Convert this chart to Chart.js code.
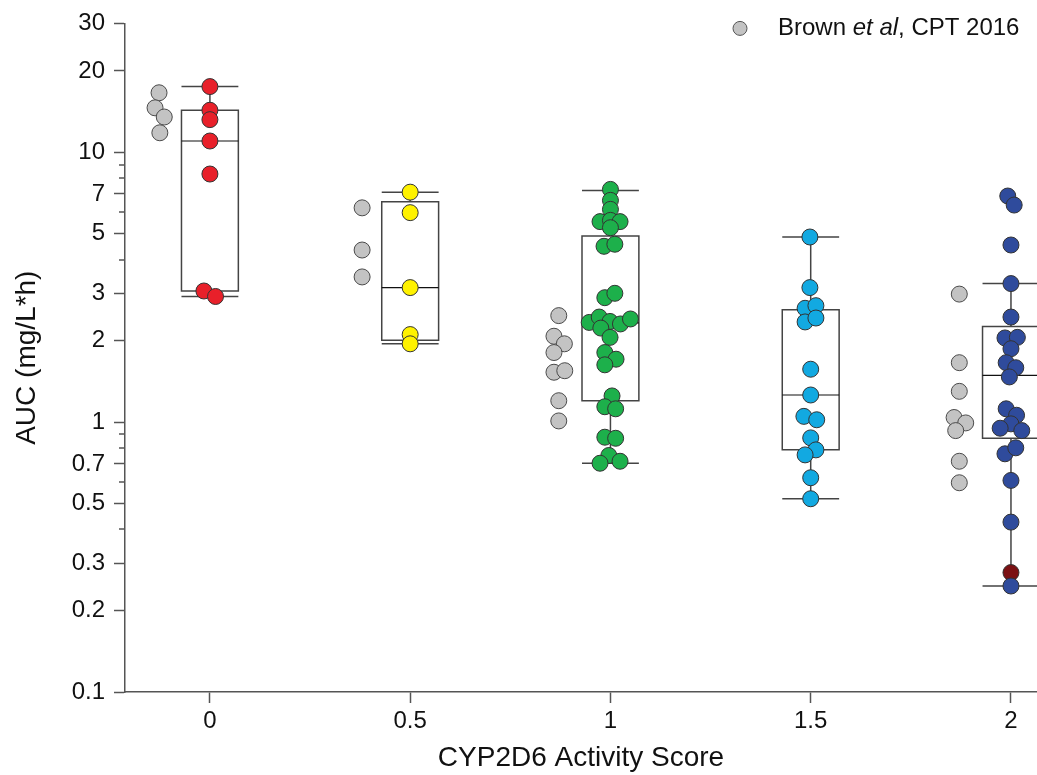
<!DOCTYPE html>
<html>
<head>
<meta charset="utf-8">
<script src="https://cdn.jsdelivr.net/npm/chart.js@4.4.0/dist/chart.umd.min.js"></script>
<style>
  html, body { margin: 0; padding: 0; background: #fff; }
</style>
</head>
<body>
<canvas id="myChart" width="1037" height="775"></canvas>
<script>
// axis ticks
const scoreTicks = [0, 0.5, 1, 1.5, 2];
const aucTicks = [0.1, 0.2, 0.3, 0.5, 0.7, 1, 2, 3, 5, 7, 10, 20, 30];
const aucMinorTicks = [0.4, 0.6, 0.8, 0.9, 4, 6, 8, 9];

// activity score 0
const as0Pos = [0, 0, 0, 0, 0, -0.015, 0.014];
const as0Auc = [17.5, 14.3, 13.2, 11.0, 8.3, 3.06, 2.92];
// activity score 0.5
const as05Pos = [0.5, 0.5, 0.5, 0.5, 0.5];
const as05Auc = [7.11, 5.97, 3.15, 2.11, 1.95];
// activity score 1
const as1Pos = [1, 1, 1, 0.974, 1, 1.024, 1, 0.984, 1.011, 0.986, 1.011, 0.947, 0.972, 0.999, 1.025,
  1.05, 0.976, 0.999, 0.986, 1.014, 0.986, 1.004, 0.986, 1.013, 0.986, 1.013, 0.996, 0.974, 1.024];
const as1Auc = [7.28, 6.63, 6.14, 5.53, 5.59, 5.53, 5.25, 4.48, 4.56, 2.89, 3.0, 2.34, 2.45, 2.36, 2.31,
  2.41, 2.23, 2.06, 1.81, 1.71, 1.63, 1.25, 1.14, 1.12, 0.879, 0.871, 0.752, 0.704, 0.716];
// activity score 1.5
const as15Pos = [1.498, 1.498, 1.486, 1.513, 1.486, 1.513, 1.5, 1.5, 1.483, 1.515, 1.5, 1.513, 1.486, 1.5, 1.5];
const as15Auc = [4.85, 3.15, 2.64, 2.7, 2.35, 2.43, 1.57, 1.26, 1.05, 1.02, 0.874, 0.789, 0.756, 0.622, 0.52];
// activity score 2
const as2Pos = [1.992, 2.008, 2, 2, 2, 1.985, 2.016, 2, 1.988, 2.012, 1.996, 1.988, 2.014, 2, 1.973,
  2.027, 1.985, 2.012, 2, 2, 2];
const as2Auc = [6.88, 6.37, 4.53, 3.26, 2.45, 2.05, 2.06, 1.87, 1.66, 1.59, 1.47, 1.12, 1.06, 0.985, 0.949,
  0.93, 0.763, 0.803, 0.608, 0.426, 0.247];
const as2OutPos = [2];
const as2OutAuc = [0.277];
// Brown et al, CPT 2016
const brownPos = [-0.127, -0.137, -0.114, -0.125, 0.38, 0.38, 0.38,
  0.871, 0.859, 0.885, 0.859, 0.859, 0.886, 0.871, 0.871,
  1.871, 1.871, 1.871, 1.858, 1.887, 1.862, 1.871, 1.871];
const brownAuc = [16.6, 14.6, 13.5, 11.8, 6.22, 4.34, 3.45,
  2.48, 2.08, 1.95, 1.81, 1.53, 1.55, 1.2, 1.01,
  2.98, 1.66, 1.3, 1.04, 0.993, 0.93, 0.716, 0.596];

// box plot stats
const boxCenter = [0, 0.5, 1, 1.5, 2];
const whiskerLow = [2.92, 1.95, 0.704, 0.52, 0.247];
const q1 = [3.06, 2.01, 1.2, 0.789, 0.871];
const median = [11.0, 3.15, 2.33, 1.26, 1.49];
const q3 = [14.3, 6.55, 4.89, 2.61, 2.26];
const whiskerHigh = [17.5, 7.11, 7.21, 4.85, 3.26];
const boxHalf = 0.071;

const FONT = '"Liberation Sans", Arial, sans-serif';
const pts = (xs, ys) => ys.map((y, i) => ({ x: xs[i], y: y }));

function dots(label, xs, ys, fill, border) {
  return {
    label: label,
    data: pts(xs, ys),
    backgroundColor: fill,
    borderColor: border || "#333",
    borderWidth: 1,
    pointRadius: 8,
    pointHoverRadius: 8,
    clip: false,
  };
}

// boxes + whiskers under the dots
const boxPlugin = {
  id: "boxes",
  beforeDatasetsDraw(chart) {
    const { ctx, scales } = chart;
    const x = scales.x, y = scales.y;
    ctx.save();
    ctx.strokeStyle = "#444";
    ctx.lineWidth = 1.5;
    boxCenter.forEach((c, i) => {
      const xl = x.getPixelForValue(c - boxHalf);
      const xr = x.getPixelForValue(c + boxHalf);
      const xc = x.getPixelForValue(c);
      const yq1 = y.getPixelForValue(q1[i]);
      const yq3 = y.getPixelForValue(q3[i]);
      const ym = y.getPixelForValue(median[i]);
      const ylo = y.getPixelForValue(whiskerLow[i]);
      const yhi = y.getPixelForValue(whiskerHigh[i]);
      ctx.beginPath();
      ctx.rect(xl, yq3, xr - xl, yq1 - yq3);
      ctx.moveTo(xc, yq3); ctx.lineTo(xc, yhi);
      ctx.moveTo(xc, yq1); ctx.lineTo(xc, ylo);
      ctx.moveTo(xl, yhi); ctx.lineTo(xr, yhi);
      ctx.moveTo(xl, ylo); ctx.lineTo(xr, ylo);
      ctx.stroke();
      ctx.beginPath();
      ctx.strokeStyle = "#111";
      ctx.lineWidth = 1.2;
      ctx.moveTo(xl, ym); ctx.lineTo(xr, ym);
      ctx.stroke();
      ctx.strokeStyle = "#444";
      ctx.lineWidth = 1.5;
    });
    ctx.restore();
  },
  afterDraw(chart) {
    const { ctx, chartArea } = chart;
    const y = chart.scales.y;
    ctx.save();
    // minor log ticks
    ctx.strokeStyle = "#555";
    ctx.lineWidth = 1.5;
    ctx.beginPath();
    aucMinorTicks.forEach((v) => {
      const py = Math.round(y.getPixelForValue(v));
      ctx.moveTo(chartArea.left - 6, py);
      ctx.lineTo(chartArea.left, py);
    });
    ctx.stroke();
    // legend
    const lx = chartArea.right - 297, ly = chartArea.top + 5;
    ctx.beginPath();
    ctx.arc(lx, ly, 7, 0, Math.PI * 2);
    ctx.fillStyle = "#c3c3c3";
    ctx.fill();
    ctx.strokeStyle = "#555";
    ctx.lineWidth = 1;
    ctx.stroke();
    ctx.fillStyle = "#111";
    ctx.textBaseline = "middle";
    let tx = lx + 38;
    ctx.font = "24px " + FONT;
    ctx.fillText("Brown ", tx, ly);
    tx += ctx.measureText("Brown ").width;
    ctx.font = "italic 24px " + FONT;
    ctx.fillText("et al", tx, ly);
    tx += ctx.measureText("et al").width;
    ctx.font = "24px " + FONT;
    ctx.fillText(", CPT 2016", tx, ly);
    ctx.restore();
  },
};

const config = {
  type: "scatter",
  data: {
    datasets: [
      dots("Brown et al, CPT 2016", brownPos, brownAuc, "#c3c3c3", "#4a4a4a"),
      dots("AS 0", as0Pos, as0Auc, "#e8202a"),
      dots("AS 0.5", as05Pos, as05Auc, "#fff200"),
      dots("AS 1", as1Pos, as1Auc, "#1db04b"),
      dots("AS 1.5", as15Pos, as15Auc, "#12a9e1"),
      dots("AS 2", as2Pos, as2Auc, "#2f4b9c"),
      dots("AS 2 outlier", as2OutPos, as2OutAuc, "#7b1113"),
    ],
  },
  options: {
    responsive: false,
    animation: false,
    layout: { autoPadding: false, padding: { left: 0, top: 22, right: 0, bottom: 0 } },
    plugins: { legend: { display: false }, tooltip: { enabled: false } },
    scales: {
      x: {
        type: "linear",
        min: -0.212,
        max: 2.065,
        afterBuildTicks: (s) => {
          s.ticks = scoreTicks.map((v) => ({ value: v }));
        },
        afterFit: (s) => {
          s.height = 83;
        },
        ticks: {
          autoSkip: false,
          maxRotation: 0,
          padding: 4,
          color: "#111",
          font: { family: FONT, size: 24 },
          callback: (v) => String(v),
        },
        grid: { drawOnChartArea: false, tickLength: 11, tickColor: "#555", tickWidth: 1.5 },
        border: { color: "#555", width: 1.5 },
        title: {
          display: true,
          text: "CYP2D6 Activity Score",
          color: "#111",
          font: { family: FONT, size: 28 },
          padding: { top: 2, bottom: 0 },
        },
      },
      y: {
        type: "logarithmic",
        min: 0.1,
        max: 30,
        afterBuildTicks: (s) => {
          s.ticks = aucTicks.map((v) => ({ value: v }));
        },
        afterFit: (s) => {
          s.width = 125;
        },
        ticks: {
          autoSkip: false,
          padding: 9,
          color: "#111",
          font: { family: FONT, size: 24 },
          callback: (v) => String(v),
        },
        grid: { drawOnChartArea: false, tickLength: 11, tickColor: "#555", tickWidth: 1.5 },
        border: { color: "#555", width: 1.5 },
        title: {
          display: true,
          text: "AUC (mg/L*h)",
          color: "#111",
          font: { family: FONT, size: 28 },
          padding: { top: 10, bottom: 0 },
        },
      },
    },
  },
  plugins: [boxPlugin],
};

const myChart = new Chart(document.getElementById("myChart"), config);
</script>
</body>
</html>
